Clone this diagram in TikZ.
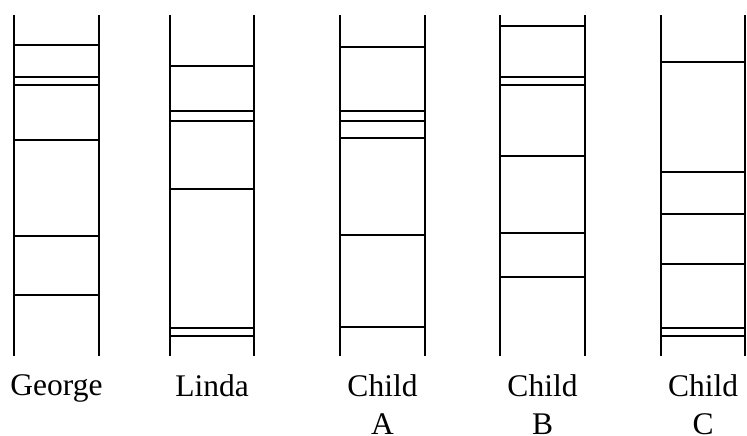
\documentclass[tikz,border=0pt]{standalone}
\usepackage{fontspec}
\setmainfont{Liberation Serif}
\begin{document}
\begin{tikzpicture}[x=1pt,y=-1pt,line width=1.3pt,
    strandname/.style={font=\fontsize{31.5}{38}\selectfont,align=center,
      anchor=north,inner sep=0pt}]
  \useasboundingbox (0,0) rectangle (747,436);
  % one column per person: left edge, right edge, band lines, name
  \foreach \xl/\xr/\bands/\who [count=\i] in {
      14/99/{45,77,85,140,236,295}/George,
      170/254/{66,111,121,189,328,336}/Linda,
      340/425/{47,111,121,138,235,327}/{Child\\A},
      500/585/{26,77,85,156,233,277}/{Child\\B},
      661/745/{62,172,214,264,328,336}/{Child\\C}}
  {
    \draw (\xl,15) -- (\xl,356) (\xr,15) -- (\xr,356);
    \foreach \y in \bands \draw (\xl,\y) -- (\xr,\y);
    \node[strandname] (name\i) at ({(\xl+\xr)/2},374) {\who};
  }
\end{tikzpicture}
\end{document}
